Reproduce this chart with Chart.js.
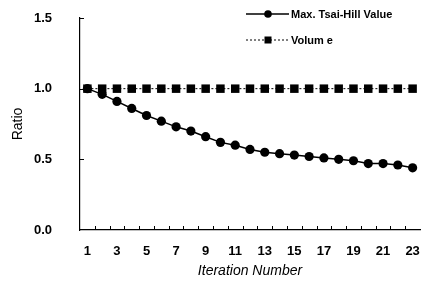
<!DOCTYPE html>
<html>
<head>
<meta charset="utf-8">
<script src="https://cdn.jsdelivr.net/npm/chart.js@4.4.1/dist/chart.umd.min.js"></script>
<style>
html,body{margin:0;padding:0;background:#fff;}
#wrap{width:426px;height:284px;position:relative;}
</style>
</head>
<body>
<div id="wrap"><canvas id="c" width="426" height="284"></canvas></div>
<script>
const iterations = ['1','2','3','4','5','6','7','8','9','10','11','12','13','14','15','16','17','18','19','20','21','22','23'];
const maxTsaiHill = [1.00,0.96,0.91,0.86,0.81,0.77,0.73,0.70,0.66,0.62,0.60,0.57,0.55,0.54,0.53,0.52,0.51,0.50,0.49,0.47,0.47,0.46,0.44];
const volume = [1,1,1,1,1,1,1,1,1,1,1,1,1,1,1,1,1,1,1,1,1,1,1];
const yTicks = [0, 0.5, 1.0, 1.5];
const seriesNames = ['Max. Tsai-Hill Value', 'Volum e'];

const FONT = "'Liberation Sans', Arial, sans-serif";

const innerTicks = {
  id: 'innerTicks',
  afterDraw(chart) {
    const ctx = chart.ctx, x = chart.scales.x, y = chart.scales.y;
    const a = chart.chartArea;
    ctx.save();
    ctx.strokeStyle = '#000';
    ctx.lineWidth = 1;
    ctx.beginPath();
    yTicks.forEach(v => {
      if (v === 0) return;
      const py = Math.round(y.getPixelForValue(v)) + 0.5;
      ctx.moveTo(a.left, py); ctx.lineTo(a.left + 4, py);
    });
    for (let i = 1; i < iterations.length; i++) {
      const px = Math.round((x.getPixelForValue(i - 1) + x.getPixelForValue(i)) / 2) + 0.5;
      ctx.moveTo(px, a.bottom); ctx.lineTo(px, a.bottom - 4);
    }
    ctx.stroke();
    ctx.restore();
  }
};

const customLegend = {
  id: 'customLegend',
  afterDraw(chart) {
    const ctx = chart.ctx;
    const rows = [14, 40];
    ctx.save();
    chart.data.datasets.forEach((ds, i) => {
      const yy = rows[i];
      ctx.strokeStyle = '#000';
      ctx.fillStyle = '#000';
      ctx.lineWidth = ds.borderWidth;
      ctx.setLineDash(ds.borderDash || []);
      ctx.beginPath();
      ctx.moveTo(246, yy); ctx.lineTo(289, yy);
      ctx.stroke();
      ctx.setLineDash([]);
      if (ds.pointStyle === 'circle') {
        ctx.beginPath(); ctx.arc(268, yy, 3.8, 0, Math.PI * 2); ctx.fill();
      } else {
        ctx.fillRect(264.5, yy - 3.5, 7, 7);
      }
      ctx.font = "bold 11px " + FONT;
      ctx.textBaseline = 'middle';
      ctx.textAlign = 'left';
      ctx.fillText(ds.label, 291, yy + 0.5);
    });
    ctx.restore();
  }
};

new Chart(document.getElementById('c'), {
  type: 'line',
  data: {
    labels: iterations,
    datasets: [
      {
        label: seriesNames[0],
        data: maxTsaiHill,
        borderColor: '#000',
        backgroundColor: '#000',
        borderWidth: 1.5,
        pointStyle: 'circle',
        pointRadius: 4.6,
        pointBorderWidth: 0,
        tension: 0
      },
      {
        label: seriesNames[1],
        data: volume,
        borderColor: '#000',
        backgroundColor: '#000',
        borderWidth: 1,
        borderDash: [2, 2],
        pointStyle: 'rect',
        pointRadius: 6,
        pointBorderWidth: 0,
        tension: 0
      }
    ]
  },
  options: {
    responsive: false,
    animation: false,
    devicePixelRatio: 1,
    layout: { padding: { left: 0, right: 5, top: 18, bottom: 0 } },
    plugins: { legend: { display: false }, tooltip: { enabled: false } },
    scales: {
      x: {
        offset: true,
        grid: { display: false, offset: true },
        border: { display: true, color: '#000', width: 1.2 },
        ticks: {
          autoSkip: false,
          maxRotation: 0,
          padding: 6,
          color: '#000',
          font: { family: FONT, size: 13, weight: 'bold' },
          callback: function(v, i) { return i % 2 === 0 ? iterations[i] : ''; }
        },
        title: {
          display: true,
          text: 'Iteration Number',
          color: '#000',
          font: { family: FONT, size: 14, style: 'italic' },
          padding: { top: 4, bottom: 4 }
        },
        afterFit(s) { s.height = 54; }
      },
      y: {
        min: 0, max: 1.5,
        grid: { display: false },
        border: { display: true, color: '#000', width: 1.2 },
        afterBuildTicks(s) { s.ticks = yTicks.map(v => ({ value: v })); },
        ticks: {
          padding: 20,
          color: '#000',
          font: { family: FONT, size: 13, weight: 'bold' },
          callback: v => Number(v).toFixed(1)
        },
        title: {
          display: true,
          text: 'Ratio',
          color: '#000',
          font: { family: FONT, size: 14 },
          padding: { top: 10, bottom: 0 }
        },
        afterFit(s) { s.width = 80; s.paddingTop = 8; s.paddingBottom = 8; }
      }
    }
  },
  plugins: [innerTicks, customLegend]
});
</script>
</body>
</html>
